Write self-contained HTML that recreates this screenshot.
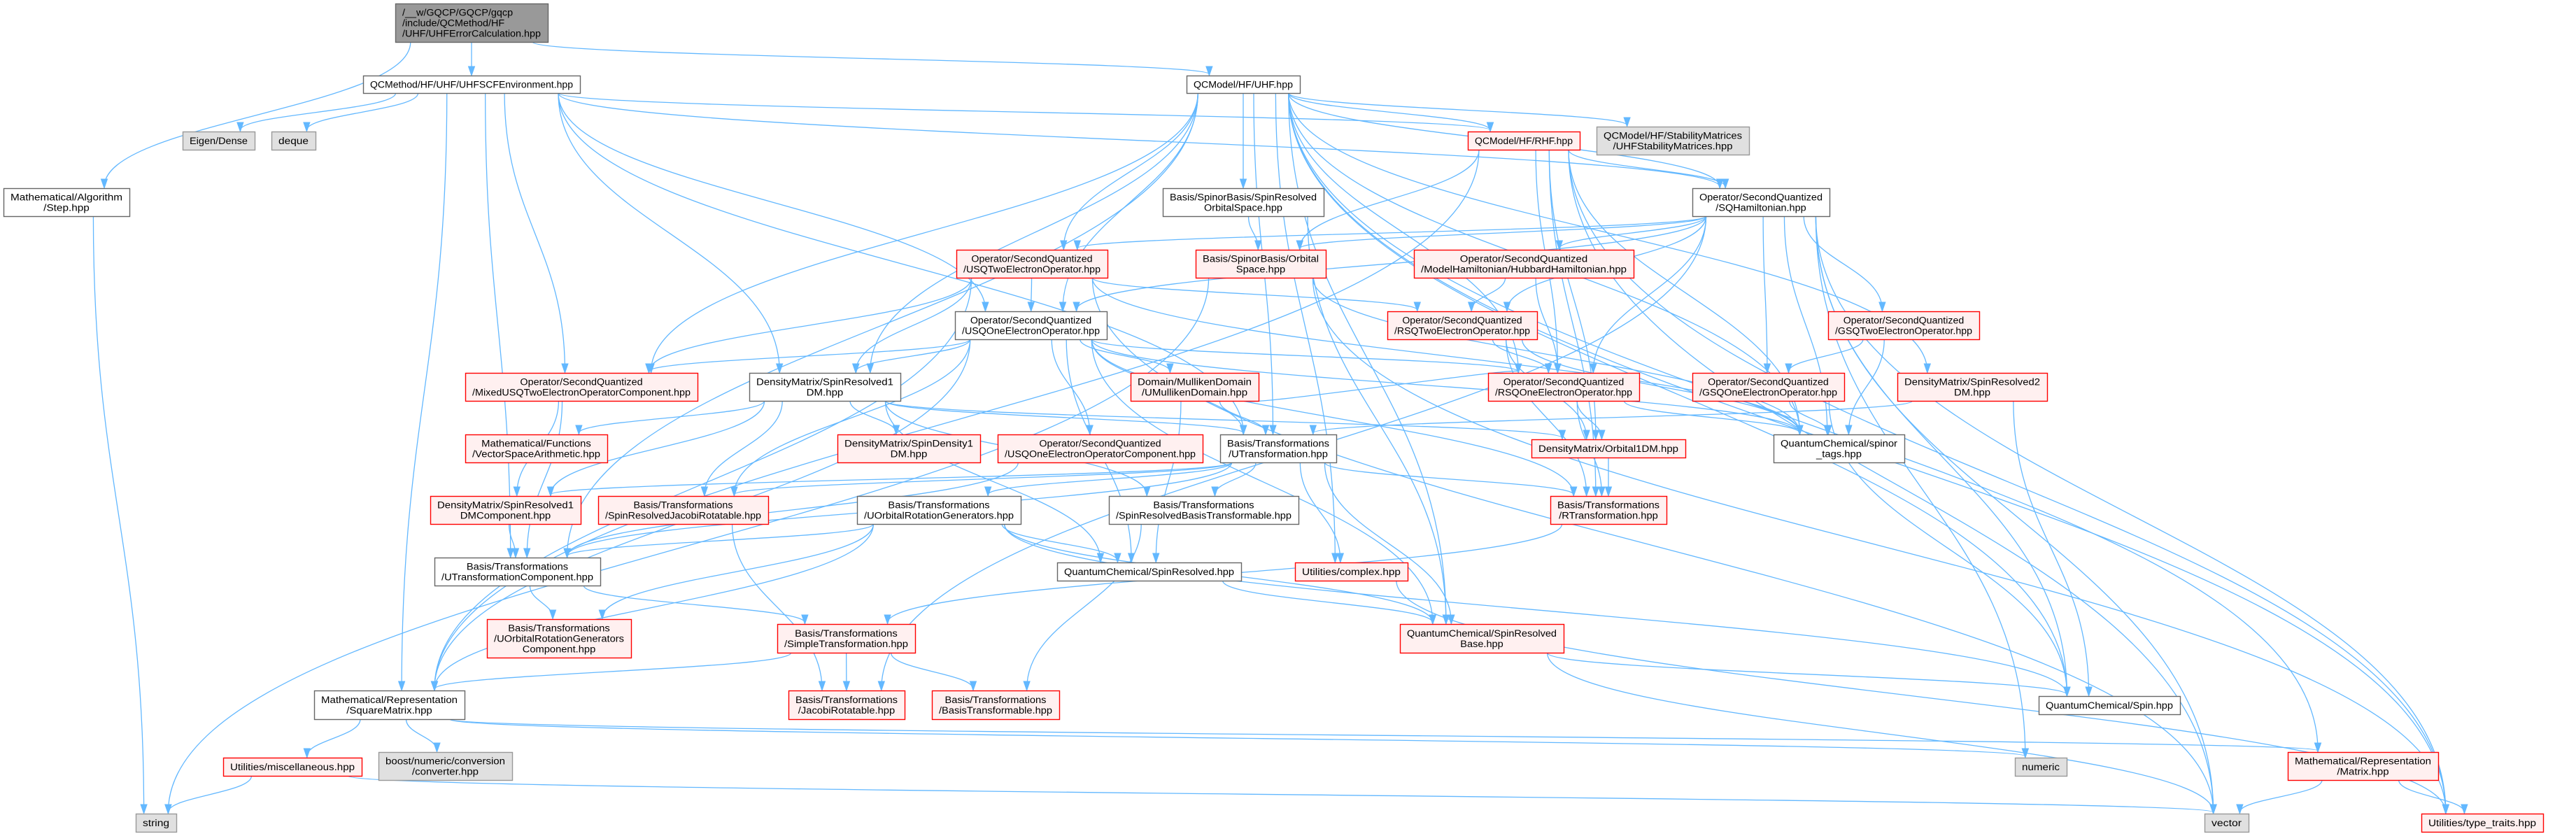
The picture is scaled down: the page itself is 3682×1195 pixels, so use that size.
<!DOCTYPE html>
<html><head><meta charset="utf-8">
<style>
html,body{margin:0;padding:0;background:#fff;}
svg{display:block;}
text{font-family:"Liberation Sans","DejaVu Sans",sans-serif;font-size:13.5px;fill:#000;}
</style></head>
<body>
<svg id="g" width="3682" height="1195" viewBox="0 0 3682 1195" xmlns="http://www.w3.org/2000/svg">
<rect width="3682" height="1195" fill="#fff"/>
<g id="edges"></g>
<g id="nodes"></g>
</svg>
<script>
var N={
A:[565,5,218,55,'d',['/__w/GQCP/GQCP/gqcp','/include/QCMethod/HF','/UHF/UHFErrorCalculation.hpp']],
B:[519,108,310,25,'w',['QCMethod/HF/UHF/UHFSCFEnvironment.hpp']],
C:[261,188,103,26,'e',['Eigen/Dense']],
D:[388,188,63,26,'e',['deque']],
E:[5,269,180,40,'w',['Mathematical/Algorithm','/Step.hpp']],
F:[1696,108,162,25,'w',['QCModel/HF/UHF.hpp']],
G:[2098,188,160,26,'r',['QCModel/HF/RHF.hpp']],
H:[2282,181,218,40,'e',['QCModel/HF/StabilityMatrices','/UHFStabilityMatrices.hpp']],
I:[1662,269,230,40,'w',['Basis/SpinorBasis/SpinResolved','OrbitalSpace.hpp']],
J:[2419,269,196,40,'w',['Operator/SecondQuantized','/SQHamiltonian.hpp']],
K:[1367,357,216,40,'r',['Operator/SecondQuantized','/USQTwoElectronOperator.hpp']],
L:[1709,357,186,40,'r',['Basis/SpinorBasis/Orbital','Space.hpp']],
M:[2021,357,314,40,'r',['Operator/SecondQuantized','/ModelHamiltonian/HubbardHamiltonian.hpp']],
N:[1365,445,217,40,'w',['Operator/SecondQuantized','/USQOneElectronOperator.hpp']],
O:[1983,445,214,40,'r',['Operator/SecondQuantized','/RSQTwoElectronOperator.hpp']],
P:[2613,445,216,40,'r',['Operator/SecondQuantized','/GSQTwoElectronOperator.hpp']],
Q:[665,533,332,40,'r',['Operator/SecondQuantized','/MixedUSQTwoElectronOperatorComponent.hpp']],
R:[1071,533,216,40,'w',['DensityMatrix/SpinResolved1','DM.hpp']],
S:[1616,533,183,40,'r',['Domain/MullikenDomain','/UMullikenDomain.hpp']],
T:[2127,533,216,40,'r',['Operator/SecondQuantized','/RSQOneElectronOperator.hpp']],
U:[2419,533,217,40,'r',['Operator/SecondQuantized','/GSQOneElectronOperator.hpp']],
V:[2712,533,214,40,'r',['DensityMatrix/SpinResolved2','DM.hpp']],
W:[665,621,203,40,'r',['Mathematical/Functions','/VectorSpaceArithmetic.hpp']],
X:[1197,621,204,40,'r',['DensityMatrix/SpinDensity1','DM.hpp']],
Y:[1426,621,293,40,'r',['Operator/SecondQuantized','/USQOneElectronOperatorComponent.hpp']],
Z:[1744,621,166,40,'w',['Basis/Transformations','/UTransformation.hpp']],
a:[2189,628,220,26,'r',['DensityMatrix/Orbital1DM.hpp']],
b:[2535,621,187,40,'w',['QuantumChemical/spinor','_tags.hpp']],
c:[615,709,215,40,'r',['DensityMatrix/SpinResolved1','DMComponent.hpp']],
d:[855,709,243,40,'r',['Basis/Transformations','/SpinResolvedJacobiRotatable.hpp']],
e:[1225,709,234,40,'w',['Basis/Transformations','/UOrbitalRotationGenerators.hpp']],
f:[1585,709,271,40,'w',['Basis/Transformations','/SpinResolvedBasisTransformable.hpp']],
g:[2216,709,166,40,'r',['Basis/Transformations','/RTransformation.hpp']],
h:[621,797,237,40,'w',['Basis/Transformations','/UTransformationComponent.hpp']],
i:[1511,804,263,26,'w',['QuantumChemical/SpinResolved.hpp']],
j:[1851,804,161,26,'r',['Utilities/complex.hpp']],
k:[696,885,206,55,'r',['Basis/Transformations','/UOrbitalRotationGenerators','Component.hpp']],
l:[1111,892,197,41,'r',['Basis/Transformations','/SimpleTransformation.hpp']],
m:[2001,892,234,41,'r',['QuantumChemical/SpinResolved','Base.hpp']],
n:[449,987,215,41,'w',['Mathematical/Representation','/SquareMatrix.hpp']],
o:[1127,987,166,41,'r',['Basis/Transformations','/JacobiRotatable.hpp']],
p:[1332,987,182,41,'r',['Basis/Transformations','/BasisTransformable.hpp']],
q:[2914,995,202,26,'w',['QuantumChemical/Spin.hpp']],
r:[319,1083,198,26,'r',['Utilities/miscellaneous.hpp']],
s:[541,1075,191,40,'e',['boost/numeric/conversion','/converter.hpp']],
t:[2880,1083,74,26,'e',['numeric']],
u:[3270,1075,215,40,'r',['Mathematical/Representation','/Matrix.hpp']],
v:[194,1163,58,26,'e',['string']],
w:[3151,1163,63,26,'e',['vector']],
x:[3461,1163,174,26,'r',['Utilities/type_traits.hpp']]
};
var E="AB AE AF BC BD Bn Bh BN BJ BG BR BZ BQ Ev FG FH FI FJ FN FK FR FV Fb Fq Fj Fx Fu FZ FQ FT Fh Fm GJ GL GT Ga Gb Gw Gx Gn Gg IL Im JM JO JP JT JU JK JN JL Jb Jw Jt Jx Jo Jq KN KR KO KQ Kn Kw Kb Lv Lb Lx MO MT NR NS NY NZ NT Nb Ni Nm Nd NQ Nn Ng OT Oa Ob Og PU Pb Qc Qh RW RX Rc Rd RZ Ra Ri Rf ST SZ Si Ta Tb Tg Ub Uq VZ Vq Yh Zc Zd Zh Ze Zf Zj Zm Zg ag ch do eh ek ei em en eq fp gl hk hl im jx lo lp ln mq mw nr ns nt nu rv rw uw ux".split(' ');
var NS='http://www.w3.org/2000/svg';
function el(t,a,p){var e=document.createElementNS(NS,t);for(var k in a)e.setAttribute(k,a[k]);p.appendChild(e);return e;}
var gn=document.getElementById('nodes'),ge=document.getElementById('edges');
var sty={w:['#fff','#666'],r:['#fff0f0','#ff0000'],e:['#e0e0e0','#999'],d:['#999','#666']};
for(var id in N){var n=N[id],s=sty[n[4]];
 el('rect',{x:n[0]+.5,y:n[1]+.5,width:n[2],height:n[3],fill:s[0],stroke:s[1],'stroke-width':1.4},gn);
 var L=n[5],ts=[];
 for(var i=0;i<L.length;i++){
  var by=n[1]+n[3]/2+(i-(L.length-1)/2)*15+5;
  var anc=n[4]=='d'?'start':'middle',tx=n[4]=='d'?n[0]+10:n[0]+n[2]/2;
  var t=el('text',{x:tx,y:by,'text-anchor':anc},gn);t.textContent=L[i];ts.push(t);}
 var mx=0;ts.forEach(function(t){mx=Math.max(mx,t.getComputedTextLength());});
 var r=(n[2]-20)/mx;
 ts.forEach(function(t){var l=t.getComputedTextLength();t.setAttribute('textLength',(l*r).toFixed(1));t.setAttribute('lengthAdjust','spacingAndGlyphs');});
}
function cl(v,a){return Math.max(-a,Math.min(a,v));}
E.forEach(function(p){var s=N[p[0]],t=N[p[1]];
 var scx=s[0]+s[2]/2,tcx=t[0]+t[2]/2;
 var sx=scx+cl((tcx-scx)*0.3,s[2]*0.4),sy=s[1]+s[3];
 var tx=tcx+cl((scx-tcx)*0.15,t[2]*0.3),ty=t[1];
 var dy=ty-sy;if(dy<20)dy=20;
 var c1y=sy+dy*0.45,c2y=ty-dy*0.45;
 var ex=tx,ey=ty-2;
 el('path',{d:'M'+sx+','+sy+' C'+sx+','+c1y+' '+tx+','+c2y+' '+ex+','+ey,fill:'none',stroke:'#63b8ff','stroke-width':1.3},ge);
 var ddx=ex-tx,ddy=ey-c2y,len=Math.sqrt(ddx*ddx+ddy*ddy)||1;ddx/=len;ddy/=len;
 var bx=ex-ddx*11,by=ey-ddy*11;
 el('polygon',{points:ex+','+(ey+2)+' '+(bx-ddy*4.5)+','+(by+ddx*4.5)+' '+(bx+ddy*4.5)+','+(by-ddx*4.5),fill:'#63b8ff',stroke:'#63b8ff'},ge);
});
</script>
</body></html>
